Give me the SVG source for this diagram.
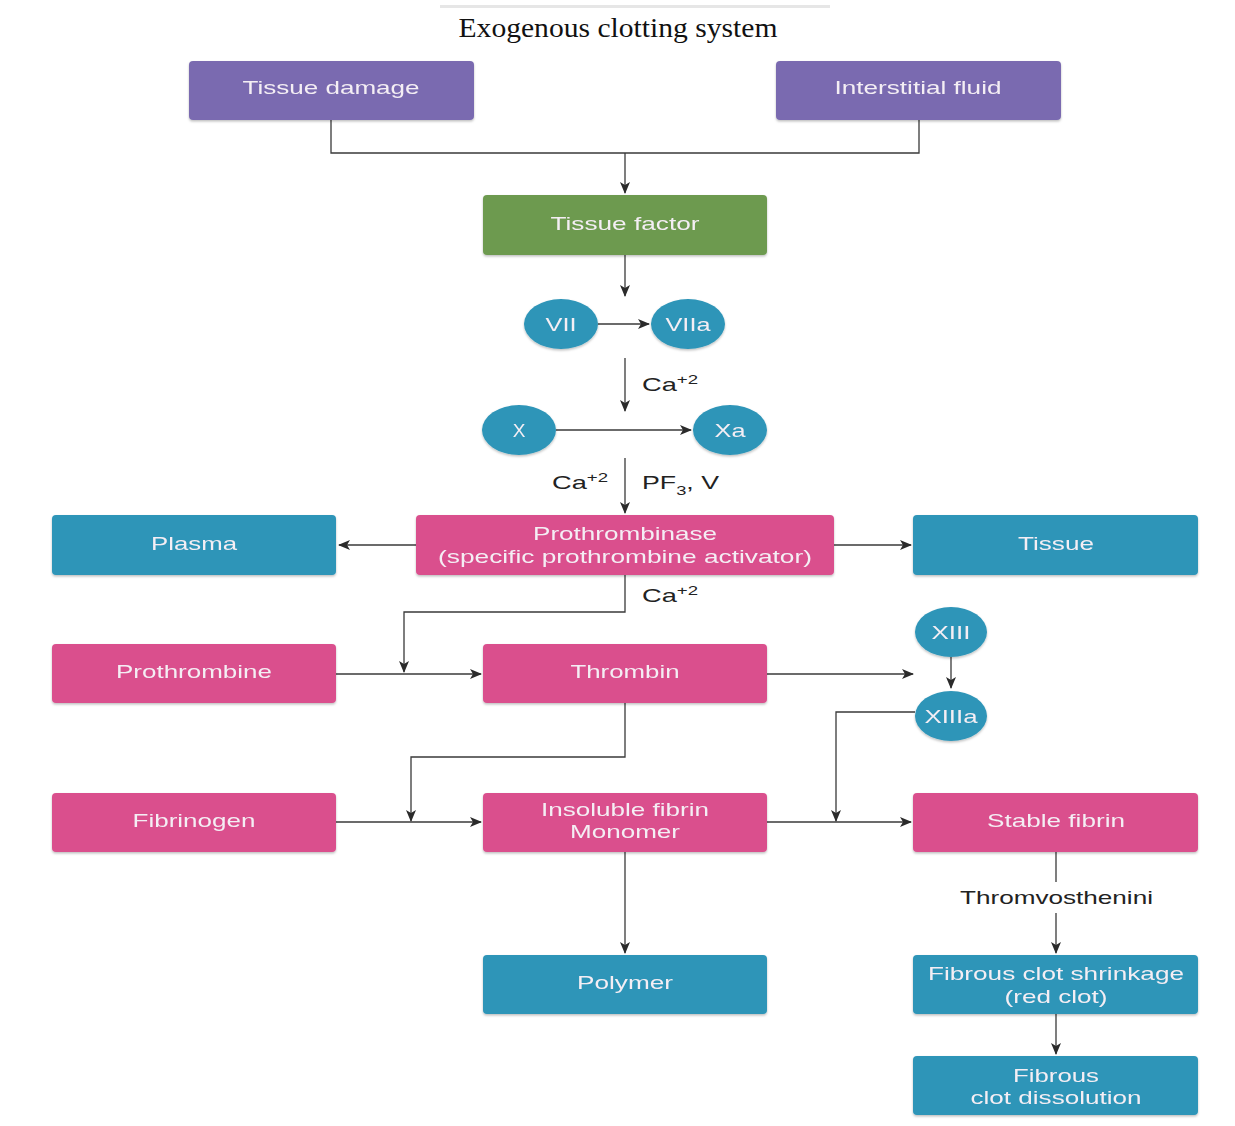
<svg xmlns="http://www.w3.org/2000/svg" width="1235" height="1126" viewBox="0 0 1235 1126">
  <defs>
    <marker id="arr" viewBox="0 0 12 10" refX="11" refY="5" markerWidth="12" markerHeight="10" markerUnits="userSpaceOnUse" orient="auto">
      <path d="M0,0 L12,5 L0,10 L3,5 Z" fill="#2b2b2b"/>
    </marker>
    <filter id="sh" x="-5%" y="-10%" width="110%" height="125%">
      <feDropShadow dx="0" dy="1.5" stdDeviation="1.2" flood-color="#000" flood-opacity="0.25"/>
    </filter>
  </defs>
  <style>
    .box { filter: url(#sh); }
    .purple { fill: #7a6bb0; }
    .green { fill: #6d9a4f; }
    .pink { fill: #da4f8d; }
    .blue { fill: #2e95b8; }
    .lbl { font-family: "Liberation Sans", Arial, sans-serif; font-size: 19px; fill: #f4eef4; text-anchor: middle; }
    .note { font-family: "Liberation Sans", Arial, sans-serif; font-size: 19px; fill: #222; }
    .sup { font-size: 13px; }
    .wire { fill: none; stroke: #3a3a3a; stroke-width: 1.3; }
    .title { font-family: "Liberation Serif", "Times New Roman", serif; font-size: 27px; fill: #111; text-anchor: middle; }
  </style>

  <rect width="1235" height="1126" fill="#ffffff"/>
  <!-- faint rule above the heading -->
  <rect x="440" y="5" width="390" height="3" fill="#e6e6e6"/>
  <text class="title" x="618" y="37" textLength="319" lengthAdjust="spacingAndGlyphs">Exogenous clotting system</text>

  <!-- connectors -->
  <g id="connectors">
    <path class="wire" d="M331,120 V153 H919 V120"/>
    <path class="wire" d="M625,153 V193" marker-end="url(#arr)"/>
    <path class="wire" d="M625,255 V296" marker-end="url(#arr)"/>
    <path class="wire" d="M598,324 H649" marker-end="url(#arr)"/>
    <path class="wire" d="M625,358 V411" marker-end="url(#arr)"/>
    <path class="wire" d="M556,430 H691" marker-end="url(#arr)"/>
    <path class="wire" d="M625,458 V513" marker-end="url(#arr)"/>
    <path class="wire" d="M416,545 H339" marker-end="url(#arr)"/>
    <path class="wire" d="M834,545 H911" marker-end="url(#arr)"/>
    <path class="wire" d="M625,575 V612 H404 V672" marker-end="url(#arr)"/>
    <path class="wire" d="M336,674 H481" marker-end="url(#arr)"/>
    <path class="wire" d="M767,674 H913" marker-end="url(#arr)"/>
    <path class="wire" d="M951,657 V688" marker-end="url(#arr)"/>
    <path class="wire" d="M625,703 V757 H411 V821" marker-end="url(#arr)"/>
    <path class="wire" d="M336,822 H481" marker-end="url(#arr)"/>
    <path class="wire" d="M767,822 H911" marker-end="url(#arr)"/>
    <path class="wire" d="M915,712 H836 V821" marker-end="url(#arr)"/>
    <path class="wire" d="M625,852 V953" marker-end="url(#arr)"/>
    <path class="wire" d="M1056,852 V882"/>
    <path class="wire" d="M1056,913 V953" marker-end="url(#arr)"/>
    <path class="wire" d="M1056,1014 V1054" marker-end="url(#arr)"/>
    <text class="note" x="642" y="391" textLength="56" lengthAdjust="spacingAndGlyphs">Ca<tspan class="sup" dy="-7">+2</tspan></text>
    <text class="note" x="552" y="489" textLength="56" lengthAdjust="spacingAndGlyphs">Ca<tspan class="sup" dy="-7">+2</tspan></text>
    <text class="note" x="642" y="489" textLength="77" lengthAdjust="spacingAndGlyphs">PF<tspan class="sup" dy="6">3</tspan><tspan dy="-6">, V</tspan></text>
    <text class="note" x="642" y="602" textLength="56" lengthAdjust="spacingAndGlyphs">Ca<tspan class="sup" dy="-7">+2</tspan></text>
    <text class="note" x="960" y="904" textLength="193" lengthAdjust="spacingAndGlyphs">Thromvosthenini</text>
  </g>

  <g id="tissue-damage" class="box">
    <rect class="purple" x="189" y="61" width="285" height="59" rx="4"/>
    <text class="lbl" x="331" y="94" textLength="177" lengthAdjust="spacingAndGlyphs">Tissue damage</text>
  </g>
  <g id="interstitial-fluid" class="box">
    <rect class="purple" x="776" y="61" width="285" height="59" rx="4"/>
    <text class="lbl" x="918" y="94" textLength="167" lengthAdjust="spacingAndGlyphs">Interstitial fluid</text>
  </g>
  <g id="tissue-factor" class="box">
    <rect class="green" x="483" y="195" width="284" height="60" rx="4"/>
    <text class="lbl" x="625" y="230" textLength="149" lengthAdjust="spacingAndGlyphs">Tissue factor</text>
  </g>
  <g id="vii" class="box">
    <ellipse class="blue" cx="561" cy="324" rx="37" ry="25"/>
    <text class="lbl" x="561" y="331" textLength="31" lengthAdjust="spacingAndGlyphs">VII</text>
  </g>
  <g id="viia" class="box">
    <ellipse class="blue" cx="688" cy="324" rx="37" ry="25"/>
    <text class="lbl" x="688" y="331" textLength="45" lengthAdjust="spacingAndGlyphs">VIIa</text>
  </g>
  <g id="x" class="box">
    <ellipse class="blue" cx="519" cy="430" rx="37" ry="25"/>
    <text class="lbl" x="519" y="437">X</text>
  </g>
  <g id="xa" class="box">
    <ellipse class="blue" cx="730" cy="430" rx="37" ry="25"/>
    <text class="lbl" x="730" y="437" textLength="31" lengthAdjust="spacingAndGlyphs">Xa</text>
  </g>
  <g id="prothrombinase" class="box">
    <rect class="pink" x="416" y="515" width="418" height="60" rx="4"/>
    <text class="lbl" x="625" y="540" textLength="184" lengthAdjust="spacingAndGlyphs">Prothrombinase</text>
    <text class="lbl" x="625" y="563" textLength="374" lengthAdjust="spacingAndGlyphs">(specific prothrombine activator)</text>
  </g>
  <g id="plasma" class="box">
    <rect class="blue" x="52" y="515" width="284" height="60" rx="4"/>
    <text class="lbl" x="194" y="550" textLength="86" lengthAdjust="spacingAndGlyphs">Plasma</text>
  </g>
  <g id="tissue" class="box">
    <rect class="blue" x="913" y="515" width="285" height="60" rx="4"/>
    <text class="lbl" x="1056" y="550" textLength="76" lengthAdjust="spacingAndGlyphs">Tissue</text>
  </g>
  <g id="prothrombine" class="box">
    <rect class="pink" x="52" y="644" width="284" height="59" rx="4"/>
    <text class="lbl" x="194" y="678" textLength="156" lengthAdjust="spacingAndGlyphs">Prothrombine</text>
  </g>
  <g id="thrombin" class="box">
    <rect class="pink" x="483" y="644" width="284" height="59" rx="4"/>
    <text class="lbl" x="625" y="678" textLength="109" lengthAdjust="spacingAndGlyphs">Thrombin</text>
  </g>
  <g id="xiii" class="box">
    <ellipse class="blue" cx="951" cy="632" rx="36" ry="25"/>
    <text class="lbl" x="951" y="639" textLength="39" lengthAdjust="spacingAndGlyphs">XIII</text>
  </g>
  <g id="xiiia" class="box">
    <ellipse class="blue" cx="951" cy="716" rx="36" ry="25"/>
    <text class="lbl" x="951" y="723" textLength="53" lengthAdjust="spacingAndGlyphs">XIIIa</text>
  </g>
  <g id="fibrinogen" class="box">
    <rect class="pink" x="52" y="793" width="284" height="59" rx="4"/>
    <text class="lbl" x="194" y="827" textLength="123" lengthAdjust="spacingAndGlyphs">Fibrinogen</text>
  </g>
  <g id="fibrin-monomer" class="box">
    <rect class="pink" x="483" y="793" width="284" height="59" rx="4"/>
    <text class="lbl" x="625" y="816" textLength="168" lengthAdjust="spacingAndGlyphs">Insoluble fibrin</text>
    <text class="lbl" x="625" y="838" textLength="110" lengthAdjust="spacingAndGlyphs">Monomer</text>
  </g>
  <g id="stable-fibrin" class="box">
    <rect class="pink" x="913" y="793" width="285" height="59" rx="4"/>
    <text class="lbl" x="1056" y="827" textLength="138" lengthAdjust="spacingAndGlyphs">Stable fibrin</text>
  </g>
  <g id="polymer" class="box">
    <rect class="blue" x="483" y="955" width="284" height="59" rx="4"/>
    <text class="lbl" x="625" y="989" textLength="96" lengthAdjust="spacingAndGlyphs">Polymer</text>
  </g>
  <g id="clot-shrinkage" class="box">
    <rect class="blue" x="913" y="955" width="285" height="59" rx="4"/>
    <text class="lbl" x="1056" y="980" textLength="256" lengthAdjust="spacingAndGlyphs">Fibrous clot shrinkage</text>
    <text class="lbl" x="1056" y="1003" textLength="103" lengthAdjust="spacingAndGlyphs">(red clot)</text>
  </g>
  <g id="clot-dissolution" class="box">
    <rect class="blue" x="913" y="1056" width="285" height="59" rx="4"/>
    <text class="lbl" x="1056" y="1082" textLength="86" lengthAdjust="spacingAndGlyphs">Fibrous</text>
    <text class="lbl" x="1056" y="1104" textLength="171" lengthAdjust="spacingAndGlyphs">clot dissolution</text>
  </g>
</svg>
